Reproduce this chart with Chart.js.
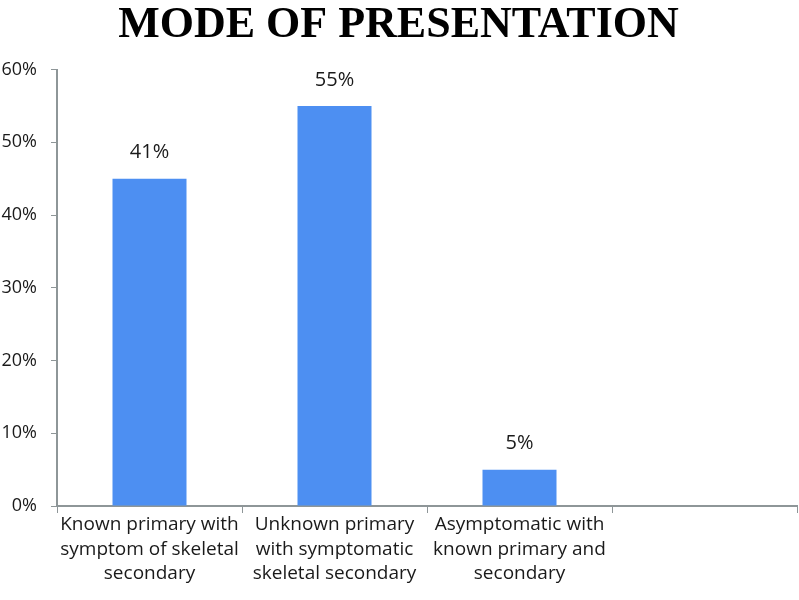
<!DOCTYPE html>
<html>
<head>
<meta charset="utf-8">
<script src="https://cdn.jsdelivr.net/npm/chart.js@4"></script>
<style>
  html, body { margin: 0; padding: 0; background: #fff; }
  #wrap { width: 799px; height: 600px; }
</style>
</head>
<body>
<div id="wrap"><canvas id="chart"></canvas></div>
<script>
// data
const categories = [
  ["Known primary with", "symptom of skeletal", "secondary"],
  ["Unknown primary", "with symptomatic", "skeletal secondary"],
  ["Asymptomatic with", "known primary and", "secondary"],
  ""
];
const values = [45, 55, 5, null];
const valueLabels = ["41%", "55%", "5%", ""];
const yMin = 0, yMax = 60, yStep = 10;

const axisColor = "#8e9698";

// text above each bar
const barLabels = {
  id: "barLabels",
  afterDatasetsDraw(chart) {
    const ctx = chart.ctx;
    const meta = chart.getDatasetMeta(0);
    ctx.save();
    ctx.font = "20px 'Open Sans'";
    ctx.fillStyle = "#1a1a1a";
    ctx.textAlign = "center";
    ctx.textBaseline = "middle";
    meta.data.forEach((bar, i) => {
      if (values[i] == null) return;
      ctx.fillText(valueLabels[i], bar.x, bar.y - 26);
    });
    ctx.restore();
  }
};

new Chart(document.getElementById("chart"), {
  type: "bar",
  data: {
    labels: categories,
    datasets: [{
      data: values,
      backgroundColor: "#4d8ff2",
      categoryPercentage: 1,
      barPercentage: 0.4
    }]
  },
  options: {
    responsive: true,
    maintainAspectRatio: false,
    animation: false,
    layout: { padding: { left: 0, right: 2, top: 0, bottom: 0 } },
    plugins: {
      legend: { display: false },
      tooltip: { enabled: false },
      title: {
        display: true,
        text: "MODE OF PRESENTATION",
        color: "#000",
        font: { family: "'Liberation Serif'", size: 44, weight: "bold", lineHeight: 1.15 },
        padding: { top: 0, bottom: 19 }
      }
    },
    scales: {
      x: {
        grid: {
          offset: true,
          drawOnChartArea: false,
          color: axisColor,
          tickLength: 7,
          tickColor: axisColor
        },
        border: { color: axisColor, width: 2 },
        ticks: {
          color: "#1a1a1a",
          font: { family: "'Open Sans'", size: 19, lineHeight: 1.27 },
          padding: 0,
          maxRotation: 0,
          autoSkip: false
        },
        afterFit(scale) { scale.height = 94; }
      },
      y: {
        min: yMin,
        max: yMax,
        grid: {
          drawOnChartArea: false,
          color: axisColor,
          tickLength: 6,
          tickColor: axisColor
        },
        border: { color: axisColor, width: 2 },
        ticks: {
          stepSize: yStep,
          color: "#1a1a1a",
          font: { family: "'Open Sans'", size: 18 },
          padding: 14,
          callback: v => v + "%"
        },
        afterFit(scale) { scale.width = 57; }
      }
    }
  },
  plugins: [barLabels]
});
</script>
</body>
</html>
